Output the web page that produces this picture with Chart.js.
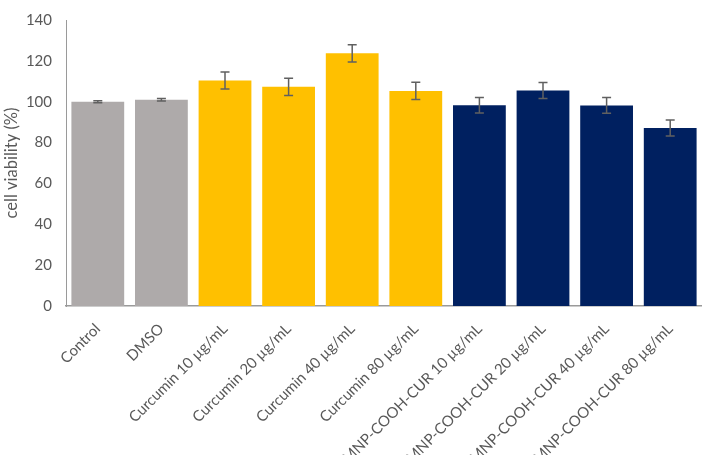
<!DOCTYPE html>
<html><head><meta charset="utf-8">
<script src="https://cdn.jsdelivr.net/npm/chart.js@4"></script>
<style>html,body{margin:0;padding:0;background:#fff}#wrap{width:702px;height:455px}</style>
</head><body><div id="wrap"><canvas id="c" width="702" height="455"></canvas></div>
<script>
const categories = ["Control","DMSO","Curcumin 10 µg/mL","Curcumin 20 µg/mL","Curcumin 40 µg/mL","Curcumin 80 µg/mL","MNP-COOH-CUR 10 µg/mL","MNP-COOH-CUR 20 µg/mL","MNP-COOH-CUR 40 µg/mL","MNP-COOH-CUR 80 µg/mL"];
const viability = [100, 101, 110.4, 107.3, 123.7, 105.3, 98.3, 105.5, 98.2, 87.1];
const errors = [0.5, 0.6, 4.2, 4.2, 4.2, 4.2, 3.8, 3.9, 3.9, 3.9];
const barColors = ["#AEAAAA","#AEAAAA","#FFC000","#FFC000","#FFC000","#FFC000","#002060","#002060","#002060","#002060"];
const yTicks = [0,20,40,60,80,100,120,140];

const errorBarPlugin = {
  id: 'errorBars',
  afterDatasetsDraw(chart) {
    const ctx = chart.ctx, meta = chart.getDatasetMeta(0), y = chart.scales.y;
    ctx.save();
    ctx.strokeStyle = '#606060';
    ctx.lineWidth = 1.5;
    meta.data.forEach((bar, i) => {
      const v = viability[i], e = errors[i];
      const top = y.getPixelForValue(v + e), bot = y.getPixelForValue(v - e);
      const x = bar.x, cap = 4.5;
      ctx.beginPath();
      ctx.moveTo(x, top); ctx.lineTo(x, bot);
      ctx.moveTo(x - cap, top); ctx.lineTo(x + cap, top);
      ctx.moveTo(x - cap, bot); ctx.lineTo(x + cap, bot);
      ctx.stroke();
    });
    ctx.restore();
  }
};

new Chart(document.getElementById('c'), {
  type: 'bar',
  data: { labels: categories, datasets: [{ data: viability, backgroundColor: barColors, borderWidth: 0, barPercentage: 0.83, categoryPercentage: 1.0 }] },
  options: {
    responsive: false, animation: false,
    layout: { padding: { top: 0, right: 0, left: 2, bottom: 0 } },
    plugins: { legend: { display: false }, tooltip: { enabled: false } },
    scales: {
      x: {
        afterFit(axis) { axis.height = 149; },
        grid: { display: false, drawTicks: false },
        border: { display: true, color: '#9a9a9a', width: 1.5 },
        ticks: { color: '#595959', font: { family: 'Lato', size: 15 }, minRotation: 45, maxRotation: 45, padding: 14 }
      },
      y: {
        min: 0, max: 140,
        afterBuildTicks(axis) { axis.ticks = yTicks.map(v => ({ value: v })); },
        afterFit(axis) { axis.width = 64; },
        grid: { display: false, drawTicks: false },
        border: { display: true, color: '#9a9a9a', width: 1 },
        ticks: { color: '#595959', font: { family: 'Lato', size: 15, lineHeight: 0.8 }, padding: 14 },
        title: { display: true, text: 'cell viability (%)', color: '#595959', font: { family: 'Lato', size: 16.5 }, padding: { top: 0, bottom: 0 } }
      }
    }
  },
  plugins: [errorBarPlugin]
});
</script></body></html>
